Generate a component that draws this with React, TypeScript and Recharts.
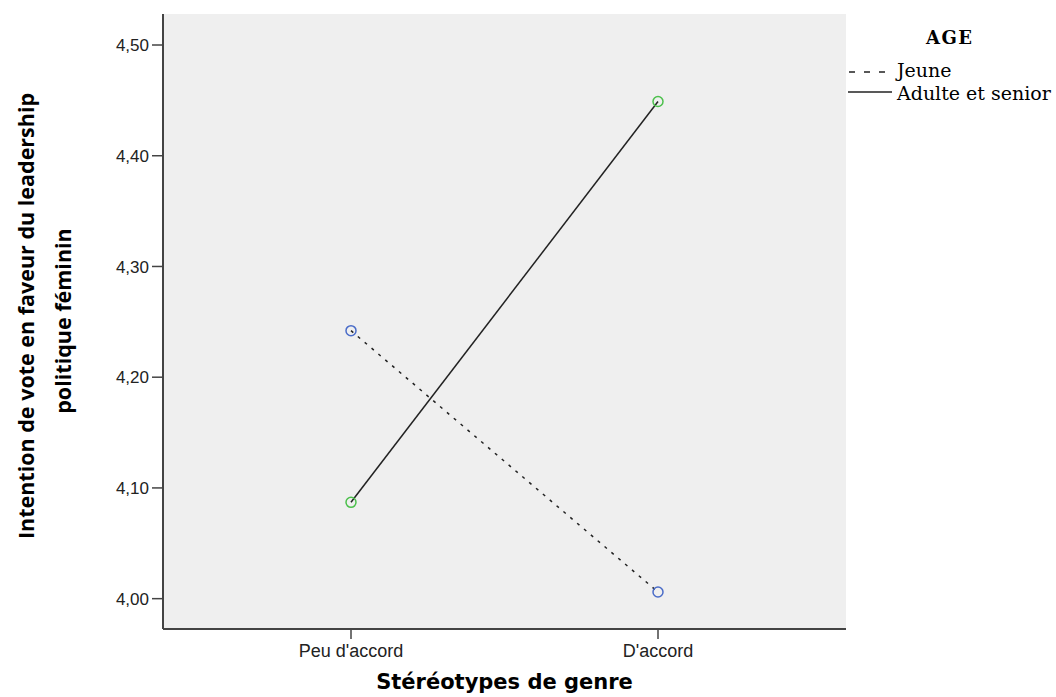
import React from 'react';
import {
  LineChart, Line, XAxis, YAxis, CartesianGrid, Legend, Label,
} from 'recharts';

// Estimated marginal means
const CATEGORIES = ["Peu d'accord", "D'accord"];
const JEUNE = [4.242, 4.006];
const ADULTE = [4.087, 4.449];
const Y_TICKS = [4.0, 4.1, 4.2, 4.3, 4.4, 4.5];

const data = CATEGORIES.map((cat, i) => ({ cat, jeune: JEUNE[i], adulte: ADULTE[i] }));

const fmt = (v: number) => v.toFixed(2).replace('.', ',');

const YTitle = () => (
  <g fontFamily="'Open Sans', sans-serif" fontWeight={700} fontSize={21.5} fill="#000">
    <text x={25} y={316} transform="rotate(-90 25 316)" textAnchor="middle" dominantBaseline="central">
      Intention de vote en faveur du leadership
    </text>
    <text x={62} y={321} transform="rotate(-90 62 321)" textAnchor="middle" dominantBaseline="central">
      politique féminin
    </text>
  </g>
);

const LegendBox = () => (
  <div style={{ fontFamily: "'DejaVu Serif', serif", fontSize: 19, lineHeight: '22px', color: '#000', whiteSpace: 'nowrap', position: 'relative' }}>
    <div style={{ position: 'absolute', left: 78, top: 13, fontWeight: 700, fontSize: 18, letterSpacing: 1.5 }}>AGE</div>
    <svg width={48} height={60} style={{ position: 'absolute', left: 0, top: 40 }}>
      <line x1={1} x2={40} y1={18} y2={18} stroke="#222" strokeWidth={1.4} strokeDasharray="6 9" />
      <line x1={0} x2={44} y1={38} y2={38} stroke="#222" strokeWidth={1.4} />
    </svg>
    <div style={{ position: 'absolute', left: 49, top: 45 }}>Jeune</div>
    <div style={{ position: 'absolute', left: 49, top: 68 }}>Adulte et senior</div>
  </div>
);

export default function App() {
  return (
    <div style={{ position: 'absolute', left: 0, top: 0, width: 1056, height: 697, background: '#fff' }}>
      <LineChart width={1056} height={697} data={data} margin={{ top: 14, right: 210, bottom: 0, left: 0 }}>
        <CartesianGrid fill="#efefef" horizontal={false} vertical={false} />
        <XAxis
          dataKey="cat"
          padding={{ left: 188, right: 188 }}
          height={68}
          tickSize={10}
          tickMargin={5}
          tick={{ fontSize: 18, fill: '#222', fontFamily: "'Liberation Sans', Arial, sans-serif" }}
          axisLine={{ stroke: '#444', strokeWidth: 2 }}
          tickLine={{ stroke: '#444', strokeWidth: 1.5 }}
        >
          <Label
            value="Stéréotypes de genre"
            position="insideBottom"
            offset={8}
            style={{ fontSize: 21, fontWeight: 700, fill: '#000', fontFamily: "'DejaVu Sans', sans-serif" }}
          />
        </XAxis>
        <XAxis xAxisId="top" dataKey="cat" orientation="top" height={0} tick={false} tickLine={false}
          padding={{ left: 188, right: 188 }} axisLine={{ stroke: '#555', strokeWidth: 1.5 }} />
        <YAxis
          domain={[3.9726, 4.528]}
          ticks={Y_TICKS}
          tickFormatter={fmt}
          width={163}
          tickSize={11}
          tickMargin={3}
          allowDataOverflow
          tick={{ fontSize: 17, fill: '#222', fontFamily: "'Liberation Sans', Arial, sans-serif" }}
          axisLine={{ stroke: '#444', strokeWidth: 2 }}
          tickLine={{ stroke: '#444', strokeWidth: 1.5 }}
        >
          <Label content={() => <YTitle />} />
        </YAxis>
        <YAxis yAxisId="right" orientation="right" width={0} tick={false} tickLine={false}
          domain={[3.9726, 4.528]} axisLine={{ stroke: '#555', strokeWidth: 1.5 }} />
        <Line
          dataKey="jeune"
          stroke="#222"
          strokeWidth={1.5}
          strokeDasharray="3 6"
          dot={{ r: 5, stroke: '#4a6cc8', strokeWidth: 1.5, fill: 'none', strokeDasharray: '0' }}
          isAnimationActive={false}
        />
        <Line
          dataKey="adulte"
          stroke="#222"
          strokeWidth={1.5}
          dot={{ r: 5, stroke: '#4cc04c', strokeWidth: 1.5, fill: 'none' }}
          isAnimationActive={false}
        />
        <Legend
          content={() => <LegendBox />}
          layout="vertical"
          align="right"
          verticalAlign="top"
          wrapperStyle={{ position: 'absolute', left: 848, top: 14, width: 0, height: 0, overflow: 'visible' }}
        />
      </LineChart>
    </div>
  );
}
